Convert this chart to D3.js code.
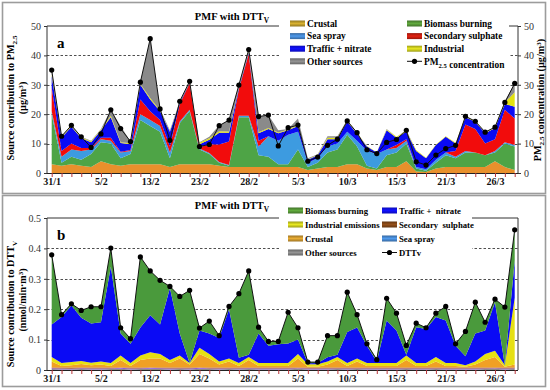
<!DOCTYPE html>
<html>
<head>
<meta charset="utf-8">
<script src="https://cdn.jsdelivr.net/npm/d3@7"></script>
<style>
body { margin: 0; background: #fff; }
text { font-family: "Liberation Serif", "Times New Roman", serif; }
</style>
</head>
<body>
<svg id="chart" width="550" height="390"></svg>
<script>
// tick labels on the x axis (every 5th sample)
var tickIdx = [0, 5, 10, 15, 20, 25, 30, 35, 40, 45];
var tickLabels = ["31/1", "5/2", "13/2", "23/2", "28/2", "5/3", "10/3", "15/3", "21/3", "26/3"];

// panel a : PM2.5 source contributions (ug/m3)
var paCrustal = [3,2.5,3,2.5,2,4,3,2.5,3,3,3,3,2,3,3,3,3,2.5,2,2,2,2,2,2,2,2,1,1.5,2,2,3,3,1.5,1,2,2,4,0.5,0.3,1.5,2,2,2,2,2,4,2,1];
var paBiomass = [17,1,2.5,2,4.5,6.5,7,2.5,3.5,15,13,11,3,14,18,5,3.5,1,0.5,17,17,4,3.5,1,1,6,1,2,5,6,10,6,1,0.5,4,5,6,1,0.5,2,4,3,5,5,4,3,8,8];
var paSea = [1,2,2.5,3,1.5,1,1,2,1,2,2,2,2,0.5,0.5,0.3,0.3,0.2,0.2,0.5,0.5,3,7,8,10,6,1.5,1.5,2,2,1,2,5,5,2,1.5,1,0.5,0.5,1,1,0.5,0.5,0,0,0.5,0.5,0.5];
var paSulph = [8,2,2,1,0.5,0.5,1,0.2,0.3,5,3,2,2,6,9,0.5,3,6,8,9,21,2,0,0,0,0,0,0,0,0,0,0,0,0,0,1,0.5,0,0,0,0,2,9,8,4,4,11,9];
var paTraffic = [4,4.5,5.7,3.3,2,2.5,7,3,2,5,4,3,5,0.5,0.3,1,1.5,4,3,0.5,0.5,2.5,2.5,2.5,1.5,2,1,1,2.5,1.5,3.5,2.3,1.5,0.5,6.5,2.5,2.5,5.5,3.7,5,5.3,2.5,2.5,2.4,3.5,3.8,2,4];
var paIndustrial = [0.5,0.3,0.3,0.3,0.3,0.3,0.5,0.3,0.3,0.3,0.5,0.3,0.2,0.2,0.2,0.5,0.5,0.5,0.4,0.2,0.3,0.4,0.3,0.3,0.3,0.3,0.2,0.2,0.5,0.5,0.3,0.2,0.2,0.1,0.3,0.3,0.3,0.3,0.2,0.2,0.2,0.3,0.2,0.2,0.2,0.3,0.5,5];
var paOther = [1.5,0.2,0.2,0.2,0.2,0.2,2,5.5,0.6,0.6,20.2,0.5,0.3,0.2,0.2,0.2,0.5,2,3.9,0.7,0.7,5.3,4.4,0.7,0.2,2.2,0.3,0.2,0.5,0.5,0.2,0.2,0,0,0.2,0,0.2,0,0,0,0,0,0.1,0,0.2,0,0.5,3];
var pm25 = [35.0,12.5,16.2,12.3,8.7,13.3,21.5,15.1,10.7,30.9,45.7,21.8,11.1,24.4,31.2,9.0,9.7,16.1,18.0,29.9,42.0,19.2,19.7,9.2,15.4,16.3,4.0,5.4,9.4,11.5,17.7,13.7,7.9,6.6,10.4,11.4,14.5,3.8,2.7,6.1,8.3,9.4,19.3,17.6,13.9,15.6,24.0,30.5];

// panel b : DTTv source contributions (nmol/min.m3)
var pbOther = [0.003,0.002,0.002,0.003,0.002,0.002,0.003,0.004,0.002,0.003,0.004,0.003,0.002,0.003,0.002,0.004,0.003,0.002,0.003,0.002,0.003,0.002,0.002,0.002,0.002,0.004,0.002,0.002,0.002,0.003,0.002,0.003,0.002,0.002,0.002,0.002,0.003,0.002,0.002,0.003,0.002,0.002,0.002,0.002,0.003,0.004,0.002,0.003];
var pbSea = [0.003,0.003,0.002,0.003,0.003,0.003,0.002,0.003,0.003,0.002,0.003,0.003,0.003,0.002,0.003,0.003,0.002,0.003,0.002,0.003,0.003,0.003,0.003,0.003,0.003,0.002,0.003,0.003,0.003,0.002,0.003,0.002,0.003,0.003,0.003,0.003,0.002,0.003,0.003,0.002,0.003,0.003,0.003,0.003,0.002,0.002,0.003,0.002];
var pbSulph = [0.002,0.003,0.004,0.002,0.003,0.003,0.003,0.001,0.003,0.003,0.001,0.002,0.003,0.003,0.003,0.001,0.003,0.003,0.003,0.003,0.002,0.003,0.003,0.003,0.003,0.002,0.003,0.003,0.003,0.003,0.003,0.003,0.003,0.003,0.003,0.003,0.003,0.003,0.003,0.003,0.003,0.003,0.003,0.003,0.003,0.002,0.003,0.003];
var pbCrustal = [0.02,0.005,0.008,0.012,0.008,0.01,0.005,0.025,0.005,0.025,0.03,0.03,0.015,0.03,0.01,0.045,0.03,0.01,0.02,0.005,0.025,0.005,0.005,0.005,0.005,0.03,0.003,0.003,0.01,0.025,0.005,0.02,0.005,0.005,0.005,0.005,0.025,0.005,0.005,0.02,0.005,0.005,0.003,0.01,0.025,0.035,0.003,0.01];
var pbIndustrial = [0.015,0.01,0.01,0.01,0.008,0.01,0.01,0.015,0.01,0.015,0.02,0.015,0.01,0.01,0.005,0.02,0.015,0.01,0.01,0.01,0.01,0.01,0.01,0.01,0.01,0.015,0.008,0.008,0.01,0.01,0.01,0.01,0.01,0.01,0.01,0.01,0.015,0.01,0.01,0.015,0.01,0.01,0.005,0.01,0.02,0.02,0.005,0.22];
var pbTraffic = [0.107,0.151,0.186,0.142,0.129,0.129,0.317,0.072,0.063,0.092,0.122,0.097,0.237,0.072,0.0,0.057,0.067,0.077,0.162,0.017,0.007,0.097,0.057,0.062,0.064,0.047,0.003,0.004,0.014,0.007,0.102,0.102,0.057,0.005,0.14,0.107,0.002,0.118,0.112,0.131,0.14,0.057,0.029,0.092,0.077,0.16,0.0,0.122];
var pbBiomass = [0.229,0.008,0.006,0.024,0.055,0.051,0.061,0.019,0.017,0.232,0.146,0.145,0.005,0.122,0.239,0.008,0.041,0.008,0.009,0.211,0.276,0.021,0.014,0.009,0.103,0.039,0.004,0.003,0.071,0.063,0.131,0.042,0.006,0.006,0.073,0.057,0.031,0.013,0.004,0.013,0.046,0.006,0.082,0.103,0.027,0.01,0.191,0.101];
var dttv = [0.379,0.182,0.218,0.196,0.208,0.208,0.401,0.139,0.103,0.372,0.326,0.295,0.275,0.242,0.262,0.138,0.161,0.113,0.209,0.251,0.326,0.141,0.094,0.094,0.190,0.139,0.026,0.026,0.113,0.113,0.256,0.182,0.086,0.034,0.236,0.187,0.081,0.154,0.139,0.187,0.209,0.086,0.127,0.223,0.157,0.233,0.207,0.461];

var svg = d3.select("#chart");
var defs = svg.append("defs");
var x = d3.scaleLinear().domain([0, 47]).range([51.7, 514.7]);
var left = 47, right = 518;

// excel-like shaded swatch
function swatchFill(id, c) {
	var g = defs.append("linearGradient").attr("id", id)
		.attr("x1", 0).attr("y1", 0).attr("x2", 0).attr("y2", 1);
	g.append("stop").attr("offset", "0%").attr("stop-color", d3.color(c).darker(0.9));
	g.append("stop").attr("offset", "50%").attr("stop-color", d3.color(c).brighter(0.2));
	g.append("stop").attr("offset", "100%").attr("stop-color", d3.color(c).darker(0.9));
	return "url(#" + id + ")";
}

function sub(t, main, s) {
	t.append("tspan").text(main);
	t.append("tspan").attr("dy", 3).attr("font-size", "70%").text(s);
	t.append("tspan").attr("dy", -3).text("");
}

function drawPanel(cfg) {
	var g = svg.append("g");
	var y = d3.scaleLinear().domain([0, cfg.max]).range([cfg.bottom, cfg.top]);

	// outer box
	g.append("rect").attr("x", 2.5).attr("y", cfg.boxTop).attr("width", 543).attr("height", cfg.boxH)
		.attr("fill", "none").attr("stroke", "#9c9c9c").attr("stroke-width", 1.6);

	// dashed grid
	g.selectAll(".grid").data(cfg.grid).enter().append("line")
		.attr("x1", left).attr("x2", right)
		.attr("y1", function(d) { return Math.round(y(d)) + 0.5; })
		.attr("y2", function(d) { return Math.round(y(d)) + 0.5; })
		.attr("stroke", "#222").attr("stroke-width", 0.8).attr("stroke-dasharray", "2.5,2");

	var rows = d3.range(48).map(function(i) {
		var r = { i: i };
		cfg.series.forEach(function(s) { r[s.key] = s.values[i]; });
		return r;
	});
	var stack = d3.stack().keys(cfg.series.map(function(s) { return s.key; }))(rows);
	var area = d3.area()
		.x(function(d) { return x(d.data.i); })
		.y0(function(d) { return y(d[0]); })
		.y1(function(d) { return y(d[1]); });

	g.selectAll(".layer").data(stack).enter().append("path")
		.attr("d", area)
		.attr("fill", function(d, k) { return cfg.series[k].color; });

	// frame
	g.append("path")
		.attr("d", "M" + left + "," + cfg.bottom + "V" + cfg.top + "H" + right + "V" + cfg.bottom)
		.attr("fill", "none").attr("stroke", "#333").attr("stroke-width", 1);

	// x axis
	var xAxis = g.append("g").attr("transform", "translate(0," + cfg.bottom + ")")
		.call(d3.axisBottom(x).tickValues(d3.range(48)).tickSize(4).tickSizeOuter(0)
			.tickFormat(function(i) { var k = tickIdx.indexOf(i); return k < 0 ? "" : tickLabels[k]; }));
	xAxis.select(".domain").attr("d", "M" + left + ",0.5H" + right).attr("stroke", "#222");
	xAxis.selectAll(".tick line").attr("stroke", "#b8343a");
	xAxis.selectAll("text").attr("font-size", 10).attr("font-weight", "bold").attr("fill", "#111")
		.attr("dy", "0.5em").attr("font-family", "Liberation Serif");

	// left axis
	var yAxis = g.append("g").attr("transform", "translate(" + left + ",0)")
		.call(d3.axisLeft(y).tickValues(cfg.ticks).tickSize(3).tickSizeOuter(0).tickFormat(cfg.fmt));
	yAxis.select(".domain").remove();
	yAxis.selectAll(".tick line").attr("stroke", "#333");
	yAxis.selectAll("text").attr("font-size", 10).attr("fill", "#333").attr("font-family", "Liberation Serif");

	if (cfg.rightAxis) {
		var rAxis = g.append("g").attr("transform", "translate(" + right + ",0)")
			.call(d3.axisRight(y).tickValues(cfg.ticks).tickSize(3).tickSizeOuter(0).tickFormat(cfg.fmt));
		rAxis.select(".domain").remove();
		rAxis.selectAll(".tick line").attr("stroke", "#333");
		rAxis.selectAll("text").attr("font-size", 10).attr("fill", "#333").attr("x", 6).attr("font-family", "Liberation Serif");
	}

	// measured line + dots
	var line = d3.line().x(function(d, i) { return x(i); }).y(function(d) { return y(d); });
	g.append("path").datum(cfg.measured).attr("d", line)
		.attr("fill", "none").attr("stroke", "#111").attr("stroke-width", 1);
	g.selectAll(".dot").data(cfg.measured).enter().append("circle")
		.attr("cx", function(d, i) { return x(i); })
		.attr("cy", function(d) { return y(d); })
		.attr("r", 2.6).attr("fill", "#000");

	// panel letter
	g.append("text").attr("x", 57).attr("y", cfg.top + 22).attr("font-size", 15).attr("font-weight", "bold").text(cfg.letter);

	// title
	var tt = g.append("text").attr("x", 232).attr("y", cfg.titleY).attr("text-anchor", "middle")
		.attr("font-size", 10.5).attr("font-weight", "bold");
	sub(tt, "PMF with DTT", "V");

	// legend
	var lg = g.append("g");
	lg.append("rect").attr("x", cfg.legBox[0]).attr("y", cfg.legBox[1]).attr("width", cfg.legBox[2]).attr("height", cfg.legBox[3]).attr("fill", "#fff");
	cfg.legend.forEach(function(e) {
		var px = cfg.legCols[e.col], py = cfg.legTop + e.row * cfg.legStep;
		if (e.line) {
			lg.append("line").attr("x1", px).attr("x2", px + 15).attr("y1", py).attr("y2", py).attr("stroke", "#111").attr("stroke-width", 1);
			lg.append("circle").attr("cx", px + 7.5).attr("cy", py).attr("r", 2.6).attr("fill", "#000");
		} else {
			lg.append("rect").attr("x", px).attr("y", py - 3).attr("width", 15).attr("height", 6)
				.attr("fill", swatchFill(cfg.letter + "sw" + e.col + e.row, e.color));
		}
		var t = lg.append("text").attr("x", px + 17).attr("y", py + 3.3).attr("font-size", cfg.legFont).attr("font-weight", "bold")
			.style("white-space", "pre");
		if (e.sub) sub(t, e.name, e.sub); else t.text(e.name);
		if (e.rest) t.append("tspan").text(e.rest);
	});

	return g;
}

var cA = { crustal: "#e8902c", biomass: "#4ea446", sea: "#3d9be0", sulph: "#f20c0c", traffic: "#0a0af5", industrial: "#e2e210", other: "#8a8a8a" };

drawPanel({
	letter: "a", top: 26, bottom: 173, max: 50, boxTop: 2.5, boxH: 191, titleY: 20,
	grid: [10, 20, 30, 40], ticks: [0, 10, 20, 30, 40, 50], fmt: d3.format("d"), rightAxis: true,
	series: [
		{ key: "crustal", values: paCrustal, color: cA.crustal },
		{ key: "biomass", values: paBiomass, color: cA.biomass },
		{ key: "sea", values: paSea, color: cA.sea },
		{ key: "sulph", values: paSulph, color: cA.sulph },
		{ key: "traffic", values: paTraffic, color: cA.traffic },
		{ key: "industrial", values: paIndustrial, color: cA.industrial },
		{ key: "other", values: paOther, color: cA.other }
	],
	measured: pm25,
	legBox: [279, 14, 230, 54], legCols: [290, 407], legTop: 23.5, legStep: 12.6, legFont: 9.4,
	legend: [
		{ col: 0, row: 0, name: "Crustal", color: "#c9a52e" },
		{ col: 0, row: 1, name: "Sea spray", color: "#4a8fdc" },
		{ col: 0, row: 2, name: "Traffic + nitrate", color: "#1010ff" },
		{ col: 0, row: 3, name: "Other sources", color: "#8a8a8a" },
		{ col: 1, row: 0, name: "Biomass burning", color: "#5a9e3a" },
		{ col: 1, row: 1, name: "Secondary sulphate", color: "#d42010" },
		{ col: 1, row: 2, name: "Industrial", color: "#d8d820" },
		{ col: 1, row: 3, name: "PM", sub: "2.5", rest: " concentration", line: true }
	]
});

drawPanel({
	letter: "b", top: 218, bottom: 370, max: 0.5, boxTop: 195.5, boxH: 191, titleY: 209,
	grid: [0.1, 0.2, 0.3, 0.4], ticks: [0, 0.1, 0.2, 0.3, 0.4, 0.5], fmt: function(d) { return d === 0 ? "0" : d3.format(".1f")(d); }, rightAxis: false,
	series: [
		{ key: "other", values: pbOther, color: "#8a8a8a" },
		{ key: "sea", values: pbSea, color: "#8e5bd6" },
		{ key: "sulph", values: pbSulph, color: "#a0522d" },
		{ key: "crustal", values: pbCrustal, color: "#f0a024" },
		{ key: "industrial", values: pbIndustrial, color: "#e6e012" },
		{ key: "traffic", values: pbTraffic, color: "#0a0af5" },
		{ key: "biomass", values: pbBiomass, color: "#4a9a3c" }
	],
	measured: dttv,
	legBox: [279, 201, 193, 58], legCols: [288, 382], legTop: 210.5, legStep: 14, legFont: 8.7,
	legend: [
		{ col: 0, row: 0, name: "Biomass burning", color: "#5a9e3a" },
		{ col: 0, row: 1, name: "Industrial emissions", color: "#d8d820" },
		{ col: 0, row: 2, name: "Crustal", color: "#d8a030" },
		{ col: 0, row: 3, name: "Other sources", color: "#8a8a8a" },
		{ col: 1, row: 0, name: "Traffic +  nitrate", color: "#1010ff" },
		{ col: 1, row: 1, name: "Secondary  sulphate", color: "#8a4a18" },
		{ col: 1, row: 2, name: "Sea spray", color: "#4a8fdc" },
		{ col: 1, row: 3, name: "DTTv", line: true }
	]
});

// axis titles
function vText(xp, yp, size) {
	return svg.append("text").attr("transform", "translate(" + xp + "," + yp + ") rotate(-90)")
		.attr("text-anchor", "middle").attr("font-size", size).attr("font-weight", "bold");
}
var t1 = vText(14, 98, 10.2);
sub(t1, "Source contribution to PM", "2.5");
var t2 = vText(26, 98, 10.2);
t2.append("tspan").text("(µg/m");
t2.append("tspan").attr("dy", -3).attr("font-size", "70%").text("3");
t2.append("tspan").attr("dy", 3).text(")");

var t3 = vText(541, 100, 10.2);
sub(t3, "PM", "2.5");
t3.append("tspan").text(" concentration (µg/m");
t3.append("tspan").attr("dy", -3).attr("font-size", "70%").text("3");
t3.append("tspan").attr("dy", 3).text(")");

var t4 = vText(14, 304, 10.2);
sub(t4, "Source contribution to DTT", "V");
var t5 = vText(26, 300, 10);
t5.append("tspan").text("(nmol/min·m");
t5.append("tspan").attr("dy", -3).attr("font-size", "70%").text("3");
t5.append("tspan").attr("dy", 3).text(")");
</script>
</body>
</html>
